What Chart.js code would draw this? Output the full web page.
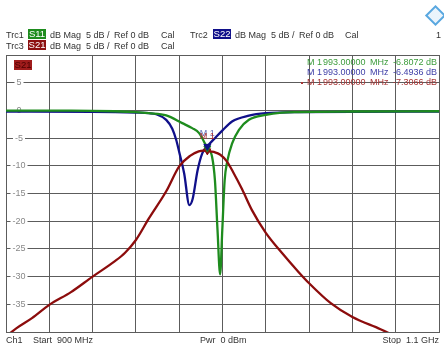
<!DOCTYPE html>
<html>
<head>
<meta charset="utf-8">
<script src="https://cdn.jsdelivr.net/npm/chart.js@4/dist/chart.umd.min.js"></script>
<style>
    body { margin: 0; background: #fff; font-family: "Liberation Sans", Arial, sans-serif; color: #333; }
    #wrap { position: relative; width: 444px; height: 344px; overflow: hidden; }
    #wrap canvas { position: absolute; left: 0; top: 0; }
    .t { position: absolute; font-size: 9px; line-height: 10px; white-space: nowrap; }
    .tag { position: absolute; font-size: 9.5px; line-height: 10px; color: #fff; width: 18px; text-align: center; height: 10px; }
    #logo { position: absolute; left: 428px; top: 8px; width: 11px; height: 11px; border: 2px solid #5aa8e0; transform: rotate(45deg); background: #eaf4fc; }
</style>
</head>
<body>
<div id="wrap">
    <canvas id="vnaChart" width="444" height="344"></canvas>

    <div class="t" style="left:6px;top:30px;">Trc1</div>
    <div class="tag" style="left:28px;top:29px;background:#1e8c1e;">S11</div>
    <div class="t" style="left:50px;top:30px;">dB Mag</div>
    <div class="t" style="left:86px;top:30px;">5 dB /</div>
    <div class="t" style="left:114px;top:30px;">Ref 0 dB</div>
    <div class="t" style="left:161px;top:30px;">Cal</div>
    <div class="t" style="left:190px;top:30px;">Trc2</div>
    <div class="tag" style="left:213px;top:29px;background:#10108a;">S22</div>
    <div class="t" style="left:235px;top:30px;">dB Mag</div>
    <div class="t" style="left:271px;top:30px;">5 dB /</div>
    <div class="t" style="left:299px;top:30px;">Ref 0 dB</div>
    <div class="t" style="left:345px;top:30px;">Cal</div>
    <div class="t" style="left:436px;top:30px;">1</div>
    <div id="logo"></div>

    <div class="t" style="left:6px;top:41px;">Trc3</div>
    <div class="tag" style="left:28px;top:40px;background:#8c1010;">S21</div>
    <div class="t" style="left:50px;top:41px;">dB Mag</div>
    <div class="t" style="left:86px;top:41px;">5 dB /</div>
    <div class="t" style="left:114px;top:41px;">Ref 0 dB</div>
    <div class="t" style="left:161px;top:41px;">Cal</div>

    <div class="t" style="left:6px;top:335px;">Ch1</div>
    <div class="t" style="left:33px;top:335px;">Start&nbsp; 900 MHz</div>
    <div class="t" style="left:200px;top:335px;">Pwr&nbsp; 0 dBm</div>
    <div class="t" style="right:5px;top:335px;">Stop&nbsp; 1.1 GHz</div>
</div>

<script>
// trace data (MHz / dB)
var s11Freq = [900, 930, 950, 960, 966, 974, 981.4, 986, 989.2, 993, 995.2, 996.5, 997.7, 998.9, 999.9, 1001, 1002.2, 1004.4, 1007.6, 1012.2, 1020, 1027.4, 1035, 1060, 1100];
var s11Db   = [-0.05, -0.05, -0.15, -0.3, -0.5, -0.9, -2.3, -3.2, -4.1, -6.81, -8.4, -12.6, -21.6, -29.6, -21.6, -12.6, -9.2, -6, -3.5, -1.7, -0.8, -0.4, -0.3, -0.2, -0.15];

var s22Freq = [900, 940, 960, 966, 969.4, 974, 976.8, 978.6, 980, 982.3, 984.7, 986.2, 988.5, 990.7, 993, 997, 1000, 1004.4, 1012.2, 1020, 1035, 1100];
var s22Db   = [-0.2, -0.25, -0.4, -0.5, -0.7, -1.7, -3.3, -5.3, -7.5, -11.4, -17.1, -16, -10.8, -7.7, -6.49, -4.8, -3.6, -2, -0.95, -0.5, -0.3, -0.2];

var s21Freq = [900, 904.9, 912, 920, 930, 940, 950, 955, 960, 966, 974, 980, 985, 989, 991, 993, 996, 999, 1002, 1005, 1009, 1013.6, 1020, 1027.4, 1035.2, 1040, 1050, 1060, 1073, 1080];
var s21Db   = [-40.8, -39.3, -37.5, -35.1, -32.8, -30, -27.3, -25.7, -23.4, -19.5, -14.6, -10.1, -8.2, -7.4, -7.25, -7.31, -7.5, -8, -9.2, -11.2, -14.2, -18, -22.1, -25.7, -29.2, -31.2, -34.8, -37.3, -39.5, -40.8];

var markerFreq = 993;
var markerDb = { s11: -6.8072, s22: -6.4936, s21: -7.3066 };
var markerText = ['-6.8072 dB', '-6.4936 dB', '-7.3066 dB'];
var yTicks = [5, 0, -5, -10, -15, -20, -25, -30, -35];

var colS11 = '#1e8c1e', colS22 = '#10108a', colS21 = '#8c0c0c';

function pts(xs, ys) {
    return xs.map(function(x, i) { return { x: x, y: ys[i] }; });
}

function trace(label, xs, ys, color, order) {
    return {
        label: label,
        data: pts(xs, ys),
        borderColor: color,
        borderWidth: 2.3,
        pointRadius: 0,
        cubicInterpolationMode: 'monotone',
        order: order
    };
}

function marker(db, color, order) {
    return {
        data: [{ x: markerFreq, y: db }],
        showLine: false,
        pointStyle: 'triangle',
        pointRotation: 180,
        pointRadius: 4,
        backgroundColor: color,
        borderColor: color,
        order: order
    };
}

var FONT = '9px "Liberation Sans", Arial, sans-serif';

// labels drawn inside the plot: y scale, active trace tag, marker readout
var overlay = {
    id: 'overlay',
    beforeDatasetsDraw: function(chart) {
        var ctx = chart.ctx, y = chart.scales.y;
        ctx.save();
        ctx.font = FONT;
        ctx.textAlign = 'center';
        ctx.textBaseline = 'middle';
        yTicks.forEach(function(v) {
            var py = y.getPixelForValue(v);
            var w = ctx.measureText(String(v)).width;
            ctx.fillStyle = '#fff';
            ctx.fillRect(19 - w / 2 - 2, py - 2, w + 4, 4);
            ctx.fillStyle = '#888';
            ctx.fillText(String(v), 19, py);
        });

        ctx.fillStyle = '#a01c1c';
        ctx.fillRect(14, 60, 18, 10);
        ctx.fillStyle = '#4a0000';
        ctx.font = '9.5px "Liberation Sans", Arial, sans-serif';
        ctx.fillText('S21', 23, 65.5);

        ctx.font = FONT;
        var colors = ['#3c9c3c', '#4040a8', '#a83434'];
        var rowY = [63, 73, 83];
        colors.forEach(function(c, i) {
            ctx.fillStyle = c;
            ctx.textAlign = 'left';
            ctx.fillText('M 1', 307, rowY[i]);
            ctx.fillText('993.00000', 323, rowY[i]);
            ctx.fillText('MHz', 370, rowY[i]);
            ctx.textAlign = 'right';
            ctx.fillText(markerText[i], 437, rowY[i]);
        });
        ctx.fillStyle = '#a83434';
        ctx.fillRect(301, 82, 2, 2);
        ctx.restore();
    },
    afterDatasetsDraw: function(chart) {
        var ctx = chart.ctx;
        var px = chart.scales.x.getPixelForValue(markerFreq);
        ctx.save();
        ctx.font = '9px "Liberation Sans", Arial, sans-serif';
        ctx.textAlign = 'center';
        ctx.textBaseline = 'middle';
        ctx.fillStyle = '#6070b8';
        ctx.fillText('M 1', px, 134);
        ctx.fillStyle = '#b03030';
        ctx.fillText('M 1', px, 137);
        ctx.restore();
    }
};

new Chart(document.getElementById('vnaChart'), {
    type: 'line',
    data: {
        datasets: [
            trace('S22', s22Freq, s22Db, colS22, 3),
            trace('S11', s11Freq, s11Db, colS11, 2),
            trace('S21', s21Freq, s21Db, colS21, 1),
            marker(markerDb.s22, colS22, 0),
            marker(markerDb.s11, colS11, 0),
            marker(markerDb.s21, colS21, 0)
        ]
    },
    options: {
        responsive: false,
        animation: false,
        layout: { padding: { left: 6, right: 3, top: 55, bottom: 12 } },
        scales: {
            x: {
                type: 'linear', min: 900, max: 1100,
                ticks: { display: false, stepSize: 20 },
                grid: { color: '#5c5c5c', lineWidth: 1, drawTicks: false },
                border: { color: '#5c5c5c' }
            },
            y: {
                min: -40, max: 10,
                ticks: { display: false, stepSize: 5 },
                grid: { color: '#5c5c5c', lineWidth: 1, drawTicks: false },
                border: { color: '#5c5c5c' }
            }
        },
        plugins: {
            legend: { display: false },
            tooltip: { enabled: false }
        }
    },
    plugins: [overlay]
});
</script>
</body>
</html>
